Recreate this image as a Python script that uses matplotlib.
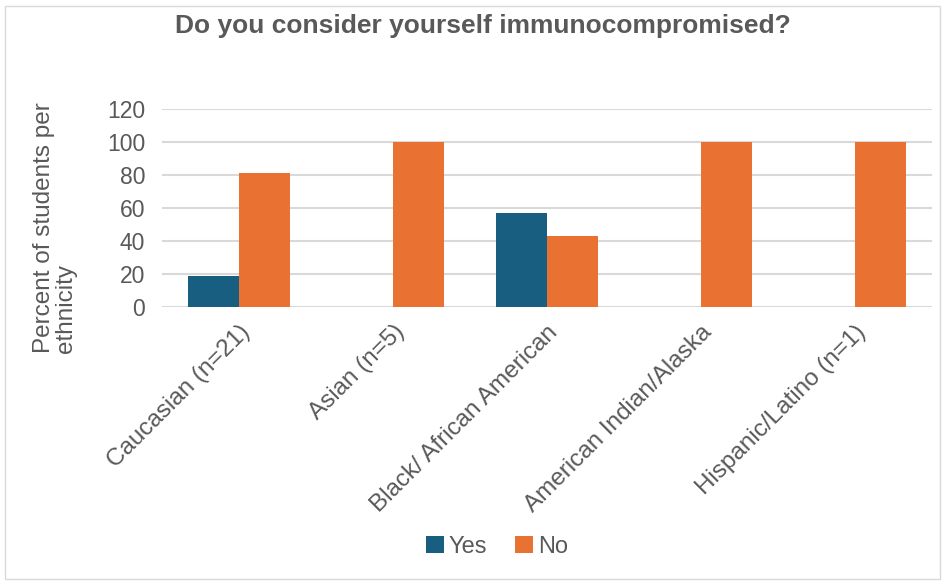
import matplotlib.pyplot as plt
import numpy as np
from matplotlib.patches import Rectangle

plt.rcParams['font.family'] = ['Liberation Sans', 'DejaVu Sans']

categories = ['Caucasian (n=21)', 'Asian (n=5)', 'Black/ African American',
              'American Indian/Alaska', 'Hispanic/Latino (n=1)']
yes_pct = [19.0, 0, 57.1, 0, 0]
no_pct = [81.0, 100, 42.9, 100, 100]

text_gray = '#595959'
blue = '#175e81'
orange = '#e97132'

fig = plt.figure(figsize=(9.43, 5.81), dpi=100)
ax = fig.add_axes([162 / 943, 1 - 307 / 581, 770 / 943, 198 / 581])

x = np.arange(len(categories))
w = 0.33
ax.bar(x - w / 2, yes_pct, w, color=blue, label='Yes', zorder=3)
ax.bar(x + w / 2, no_pct, w, color=orange, label='No', zorder=3)

ax.set_xlim(-0.5, len(categories) - 0.5)
ax.set_ylim(0, 120)
ax.set_yticks(range(0, 121, 20))
ax.yaxis.grid(True, color='#d9d9d9', linewidth=1.5, zorder=0)
for s in ax.spines.values():
    s.set_visible(False)
ax.tick_params(axis='y', length=0, labelsize=16.5, colors=text_gray, pad=12)
ax.tick_params(axis='x', length=0, labelsize=17.5, colors=text_gray, pad=10)
ax.set_xticks(x)
ax.set_xticklabels(categories, rotation=45, ha='right', rotation_mode='anchor')

# axis title, lines aligned at the bottom
fig.text(55 / 943, 1 - 228 / 581, 'Percent of students per\nethnicity', rotation=90,
         ha='center', va='center', multialignment='left', fontsize=17.5,
         color=text_gray, linespacing=1.0)
fig.text(483 / 943, 1 - 26 / 581, 'Do you consider yourself immunocompromised?',
         ha='center', va='center', fontsize=19, fontweight='bold', color=text_gray)

fig.legend(loc='center', bbox_to_anchor=(497 / 943, 1 - 547 / 581), ncol=2, frameon=False,
           fontsize=17, labelcolor=text_gray, handlelength=0.76, handleheight=0.76,
           handletextpad=0.2, columnspacing=1.2)

# chart area border
fig.patches.append(Rectangle((5 / 943, 2 / 581), 935 / 943, 573 / 581, transform=fig.transFigure,
                             fill=False, edgecolor='#d9d9d9', linewidth=1))

fig.savefig('out.png', dpi=100)
